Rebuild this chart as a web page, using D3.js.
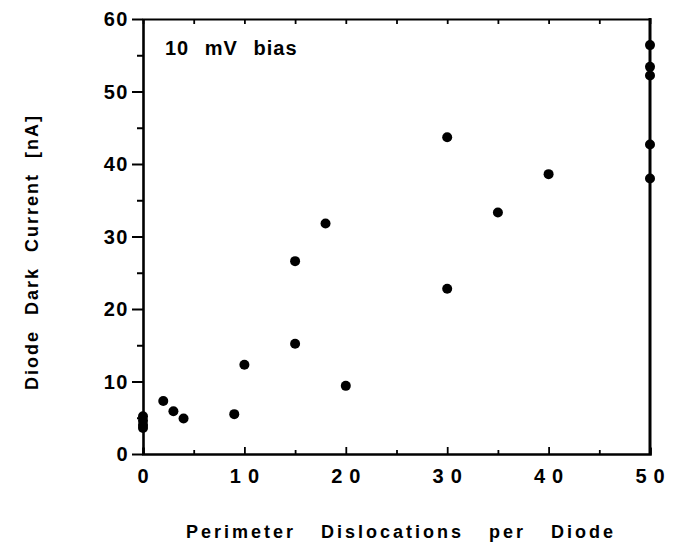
<!DOCTYPE html>
<html>
<head>
<meta charset="utf-8">
<script src="https://cdn.jsdelivr.net/npm/d3@7"></script>
<style>
  body { margin: 0; background: #fff; }
  text { font-family: "Liberation Sans", Arial, sans-serif; font-weight: bold; fill: #000; }
</style>
</head>
<body>
<svg id="chart" width="679" height="545"></svg>
<script>
// perimeter dislocations per diode
const dislocations = [0, 0, 0, 0, 2, 3, 4, 9, 10, 15, 15, 18, 20, 30, 30, 35, 40, 50, 50, 50, 50, 50];
// dark current [nA]
const darkCurrent = [5.2, 4.6, 4.0, 3.6, 7.3, 5.9, 4.9, 5.5, 12.3, 15.2, 26.6, 31.8, 9.4, 43.7, 22.8, 33.3, 38.6, 56.4, 53.4, 52.2, 42.7, 38.0];
const xTicks = [0, 10, 20, 30, 40, 50];
const yTicks = [0, 10, 20, 30, 40, 50, 60];

const mLeft = 143, mRight = 650, mTop = 19, mBottom = 454;

const svg = d3.select("#chart");

const x = d3.scaleLinear().domain([0, 50]).range([mLeft, mRight]);
const y = d3.scaleLinear().domain([0, 60]).range([mBottom, mTop]);

// left axis: ticks outward
const yAxis = svg.append("g")
    .attr("transform", `translate(${mLeft},0)`)
    .call(d3.axisLeft(y).tickValues(d3.range(0, 61, 5)).tickSize(6).tickSizeOuter(0).tickFormat(""));
yAxis.select(".domain").attr("stroke-width", 2.6);
yAxis.selectAll(".tick line").attr("stroke-width", 2)
    .attr("x2", d => d % 10 === 0 ? -11 : -6);

yAxis.selectAll(".ylab")
  .data(yTicks)
  .join("text")
    .attr("class", "ylab")
    .attr("x", -14)
    .attr("y", d => y(d) + 7)
    .attr("text-anchor", "end")
    .attr("font-size", 20)
    .attr("letter-spacing", 1.5)
    .text(d => d);

// bottom axis: ticks inward
const xAxis = svg.append("g")
    .attr("transform", `translate(0,${mBottom})`)
    .call(d3.axisBottom(x).tickValues(d3.range(0, 51, 5)).tickSizeOuter(0).tickSize(-6).tickFormat(""));
xAxis.select(".domain").attr("stroke-width", 2.6);
xAxis.selectAll(".tick line").attr("stroke-width", 1.8)
    .attr("y2", d => d % 10 === 0 ? -7 : -4);

xAxis.selectAll(".xlab")
  .data(xTicks)
  .join("text")
    .attr("class", "xlab")
    .attr("x", d => x(d) + (d === 0 ? 0 : 3.5))
    .attr("y", 29)
    .attr("text-anchor", "middle")
    .attr("font-size", 20)
    .attr("letter-spacing", d => d === 0 ? 0 : 7)
    .text(d => d);

// top axis: ticks inward, no labels
const topAxis = svg.append("g")
    .attr("transform", `translate(0,${mTop})`)
    .call(d3.axisTop(x).tickValues(d3.range(5, 50, 5)).tickSizeOuter(0).tickSize(-5).tickFormat(""));
topAxis.select(".domain").attr("stroke-width", 1.8);
topAxis.selectAll(".tick line").attr("stroke-width", 1.8);

// right axis line
svg.append("line")
    .attr("x1", mRight).attr("x2", mRight)
    .attr("y1", mTop - 1).attr("y2", mBottom + 1)
    .attr("stroke", "#000")
    .attr("stroke-width", 3);

// points
svg.append("g")
  .selectAll("circle")
  .data(dislocations.map((d, i) => [d, darkCurrent[i]]))
  .join("circle")
    .attr("cx", d => x(d[0]))
    .attr("cy", d => y(d[1]))
    .attr("r", 5)
    .attr("fill", "#000");

// annotation
svg.append("text")
    .attr("x", 165)
    .attr("y", 55)
    .attr("font-size", 20)
    .attr("letter-spacing", 1)
    .attr("word-spacing", 9)
    .text("10 mV bias");

// axis titles
svg.append("text")
    .attr("transform", "translate(38,252) rotate(-90)")
    .attr("text-anchor", "middle")
    .attr("font-size", 18)
    .attr("letter-spacing", 2)
    .attr("word-spacing", 8)
    .text("Diode Dark Current [nA]");

svg.append("text")
    .attr("x", 401)
    .attr("y", 538)
    .attr("text-anchor", "middle")
    .attr("font-size", 18)
    .attr("letter-spacing", 3)
    .attr("word-spacing", 17)
    .text("Perimeter Dislocations per Diode");
</script>
</body>
</html>
